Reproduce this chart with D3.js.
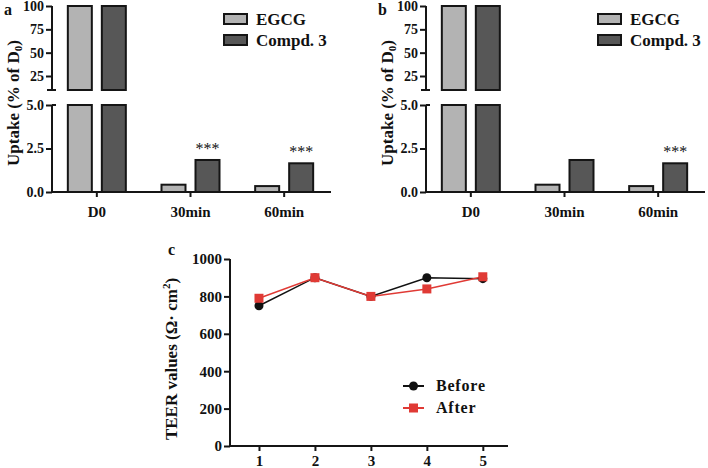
<!DOCTYPE html>
<html><head><meta charset="utf-8">
<script src="https://cdn.jsdelivr.net/npm/d3@7"></script>
<style>
body{margin:0;background:#fff;}
text{font-family:"Liberation Serif","Times New Roman",serif;font-weight:bold;fill:#111;}
</style></head>
<body>
<svg id="chart" width="708" height="468"></svg>
<script>
// ---- data ----
const categories = ["D0", "30min", "60min"];
const series = ["EGCG", "Compd. 3"];
const egcgValues = [100, 0.42, 0.34];
const compdValues = [100, 1.84, 1.65];
const upperTicks = [25, 50, 75, 100];
const lowerTicks = [0, 2.5, 5];
const starsA = [false, true, true];
const starsB = [false, false, true];

const teerX = [1, 2, 3, 4, 5];
const teerBefore = [750, 900, 800, 900, 895];
const teerAfter = [790, 900, 800, 840, 905];
const teerYTicks = [0, 200, 400, 600, 800, 1000];

const colors = {"EGCG": "#b3b3b3", "Compd. 3": "#575757"};
const svg = d3.select("#chart");
const ink = "#151515";

function barPanel(ox, label, stars) {
  const g = svg.append("g").attr("transform", `translate(${ox},0)`);
  const axisX = 52, right = 331, top = 6, upBot = 90, lowTop = 105, bottom = 192;
  const x = d3.scaleBand().domain(categories).range([50, 331]);
  const xs = d3.scaleBand().domain(series).range([0, 58]).paddingInner(10 / 34);
  const yU = d3.scaleLinear().domain([10, 100]).range([upBot, top]);
  const yL = d3.scaleLinear().domain([0, 5]).range([bottom, lowTop]);
  const data = categories.map((c, i) => ({c, vals: [egcgValues[i], compdValues[i]]}));

  data.forEach((d, i) => {
    series.forEach((s, j) => {
      const v = d.vals[j];
      const bx = x(d.c) + x.bandwidth() / 2 - 29 + xs(s);
      const w = xs.bandwidth();
      const yt = yL(Math.min(v, 5));
      g.append("rect").attr("x", bx).attr("y", yt).attr("width", w).attr("height", bottom - yt)
        .attr("fill", colors[s]).attr("stroke", ink).attr("stroke-width", 2);
      if (v > 10) {
        const yt2 = yU(Math.min(v, 100));
        g.append("rect").attr("x", bx).attr("y", yt2).attr("width", w).attr("height", upBot - yt2)
          .attr("fill", colors[s]).attr("stroke", ink).attr("stroke-width", 2);
      }
    });
    if (stars[i]) {
      const s = series[1];
      const cx = x(d.c) + x.bandwidth() / 2 - 29 + xs(s) + xs.bandwidth() / 2;
      g.append("text").attr("x", cx).attr("y", yL(d.vals[1]) - 6)
        .attr("text-anchor", "middle").attr("font-size", 16).style("font-weight", "normal").text("***");
    }
  });

  const au = g.append("g").attr("transform", `translate(${axisX},0)`)
    .call(d3.axisLeft(yU).tickValues(upperTicks).tickSize(6).tickPadding(2).tickFormat(d3.format("d")));
  au.select(".domain").remove();
  au.append("line").attr("x1", 0).attr("x2", 0).attr("y1", top).attr("y2", upBot).attr("stroke", ink).attr("stroke-width", 2);
  au.append("line").attr("x1", -5).attr("x2", 4).attr("y1", upBot).attr("y2", upBot).attr("stroke", ink).attr("stroke-width", 2);
  const al = g.append("g").attr("transform", `translate(${axisX},0)`)
    .call(d3.axisLeft(yL).tickValues(lowerTicks).tickSize(6).tickPadding(2).tickFormat(d3.format(".1f")));
  al.select(".domain").remove();
  al.append("line").attr("x1", 0).attr("x2", 0).attr("y1", lowTop).attr("y2", bottom).attr("stroke", ink).attr("stroke-width", 2);
  al.append("line").attr("x1", 0).attr("x2", 4).attr("y1", lowTop).attr("y2", lowTop).attr("stroke", ink).attr("stroke-width", 2);
  [au, al].forEach(a => {
    a.selectAll(".tick line").attr("stroke", ink).attr("stroke-width", 2);
    a.selectAll(".tick text").attr("font-size", 14).attr("fill", ink)
      .style("font-family", "Liberation Serif").style("font-weight", "bold");
  });

  const ax = g.append("g").attr("transform", `translate(0,${bottom})`)
    .call(d3.axisBottom(x).tickSize(5).tickPadding(9));
  ax.select(".domain").remove();
  ax.append("line").attr("x1", axisX).attr("x2", right).attr("y1", 0).attr("y2", 0).attr("stroke", ink).attr("stroke-width", 2);
  ax.selectAll(".tick line").attr("stroke", ink).attr("stroke-width", 2);
  ax.selectAll(".tick text").attr("font-size", 15).attr("fill", ink)
    .style("font-family", "Liberation Serif").style("font-weight", "bold");

  const yl = g.append("text").attr("transform", `translate(19,103) rotate(-90)`)
    .attr("text-anchor", "middle").attr("font-size", 17);
  yl.append("tspan").text("Uptake (% of D");
  yl.append("tspan").attr("font-size", 11).attr("dy", 3).text("0");
  yl.append("tspan").attr("dy", -3).text(")");

  g.append("text").attr("x", 4).attr("y", 15).attr("font-size", 16).text(label);

  series.forEach((s, j) => {
    const ly = 14 + j * 21;
    g.append("rect").attr("x", 224).attr("y", ly).attr("width", 23).attr("height", 10)
      .attr("fill", colors[s]).attr("stroke", ink).attr("stroke-width", 2);
    g.append("text").attr("x", 256).attr("y", ly + 11).attr("font-size", 17).text(s);
  });
}

barPanel(0, "a", starsA);
barPanel(374, "b", starsB);

// ---- panel c ----
(function () {
  const g = svg.append("g");
  const x = d3.scaleLinear().domain([0.5, 5.45]).range([231, 508]);
  const y = d3.scaleLinear().domain([0, 1000]).range([446, 259]);
  const ay = g.append("g").attr("transform", "translate(230,0)")
    .call(d3.axisLeft(y).tickValues(teerYTicks).tickSize(6).tickPadding(2).tickFormat(d3.format("d")));
  ay.select(".domain").remove();
  ay.append("line").attr("x1", 0).attr("x2", 0).attr("y1", 259).attr("y2", 446).attr("stroke", ink).attr("stroke-width", 2);
  const ax = g.append("g").attr("transform", "translate(0,446)")
    .call(d3.axisBottom(x).tickValues(teerX).tickSize(5).tickPadding(4).tickFormat(d3.format("d")));
  ax.select(".domain").remove();
  ax.append("line").attr("x1", 230).attr("x2", 508).attr("y1", 0).attr("y2", 0).attr("stroke", ink).attr("stroke-width", 2);
  [ax, ay].forEach(a => {
    a.selectAll(".tick line").attr("stroke", ink).attr("stroke-width", 2);
    a.selectAll(".tick text").attr("font-size", 15).attr("fill", ink)
      .style("font-family", "Liberation Serif").style("font-weight", "bold");
  });

  const line = d3.line().x((d, i) => x(teerX[i])).y(d => y(d));
  g.append("path").datum(teerBefore).attr("d", line).attr("fill", "none").attr("stroke", "#111").attr("stroke-width", 1.5);
  g.append("path").datum(teerAfter).attr("d", line).attr("fill", "none").attr("stroke", "#e03a35").attr("stroke-width", 1.5);
  g.selectAll("circle.b").data(teerBefore).enter().append("circle")
    .attr("cx", (d, i) => x(teerX[i])).attr("cy", d => y(d)).attr("r", 4.5).attr("fill", "#111");
  g.selectAll("rect.a").data(teerAfter).enter().append("rect")
    .attr("x", (d, i) => x(teerX[i]) - 4.5).attr("y", d => y(d) - 4.5).attr("width", 9).attr("height", 9).attr("fill", "#e03a35");

  const leg = [["Before", "#111", "c"], ["After", "#e03a35", "s"]];
  leg.forEach((l, j) => {
    const ly = 386 + j * 22;
    g.append("line").attr("x1", 403).attr("x2", 424).attr("y1", ly).attr("y2", ly).attr("stroke", l[1]).attr("stroke-width", 2);
    if (l[2] === "c") g.append("circle").attr("cx", 413.5).attr("cy", ly).attr("r", 4.5).attr("fill", l[1]);
    else g.append("rect").attr("x", 409).attr("y", ly - 4.5).attr("width", 9).attr("height", 9).attr("fill", l[1]);
    g.append("text").attr("x", 436).attr("y", ly + 5).attr("font-size", 16).style("letter-spacing", "0.8px").text(l[0]);
  });

  const yl = g.append("text").attr("transform", "translate(177,359) rotate(-90)")
    .attr("text-anchor", "middle").attr("font-size", 17);
  yl.append("tspan").text("TEER values (Ω·  cm");
  yl.append("tspan").attr("font-size", 11).attr("dy", -7).text("2");
  yl.append("tspan").attr("dy", 7).text(")");

  g.append("text").attr("x", 168).attr("y", 255).attr("font-size", 16).text("c");
})();
</script>
</body></html>
